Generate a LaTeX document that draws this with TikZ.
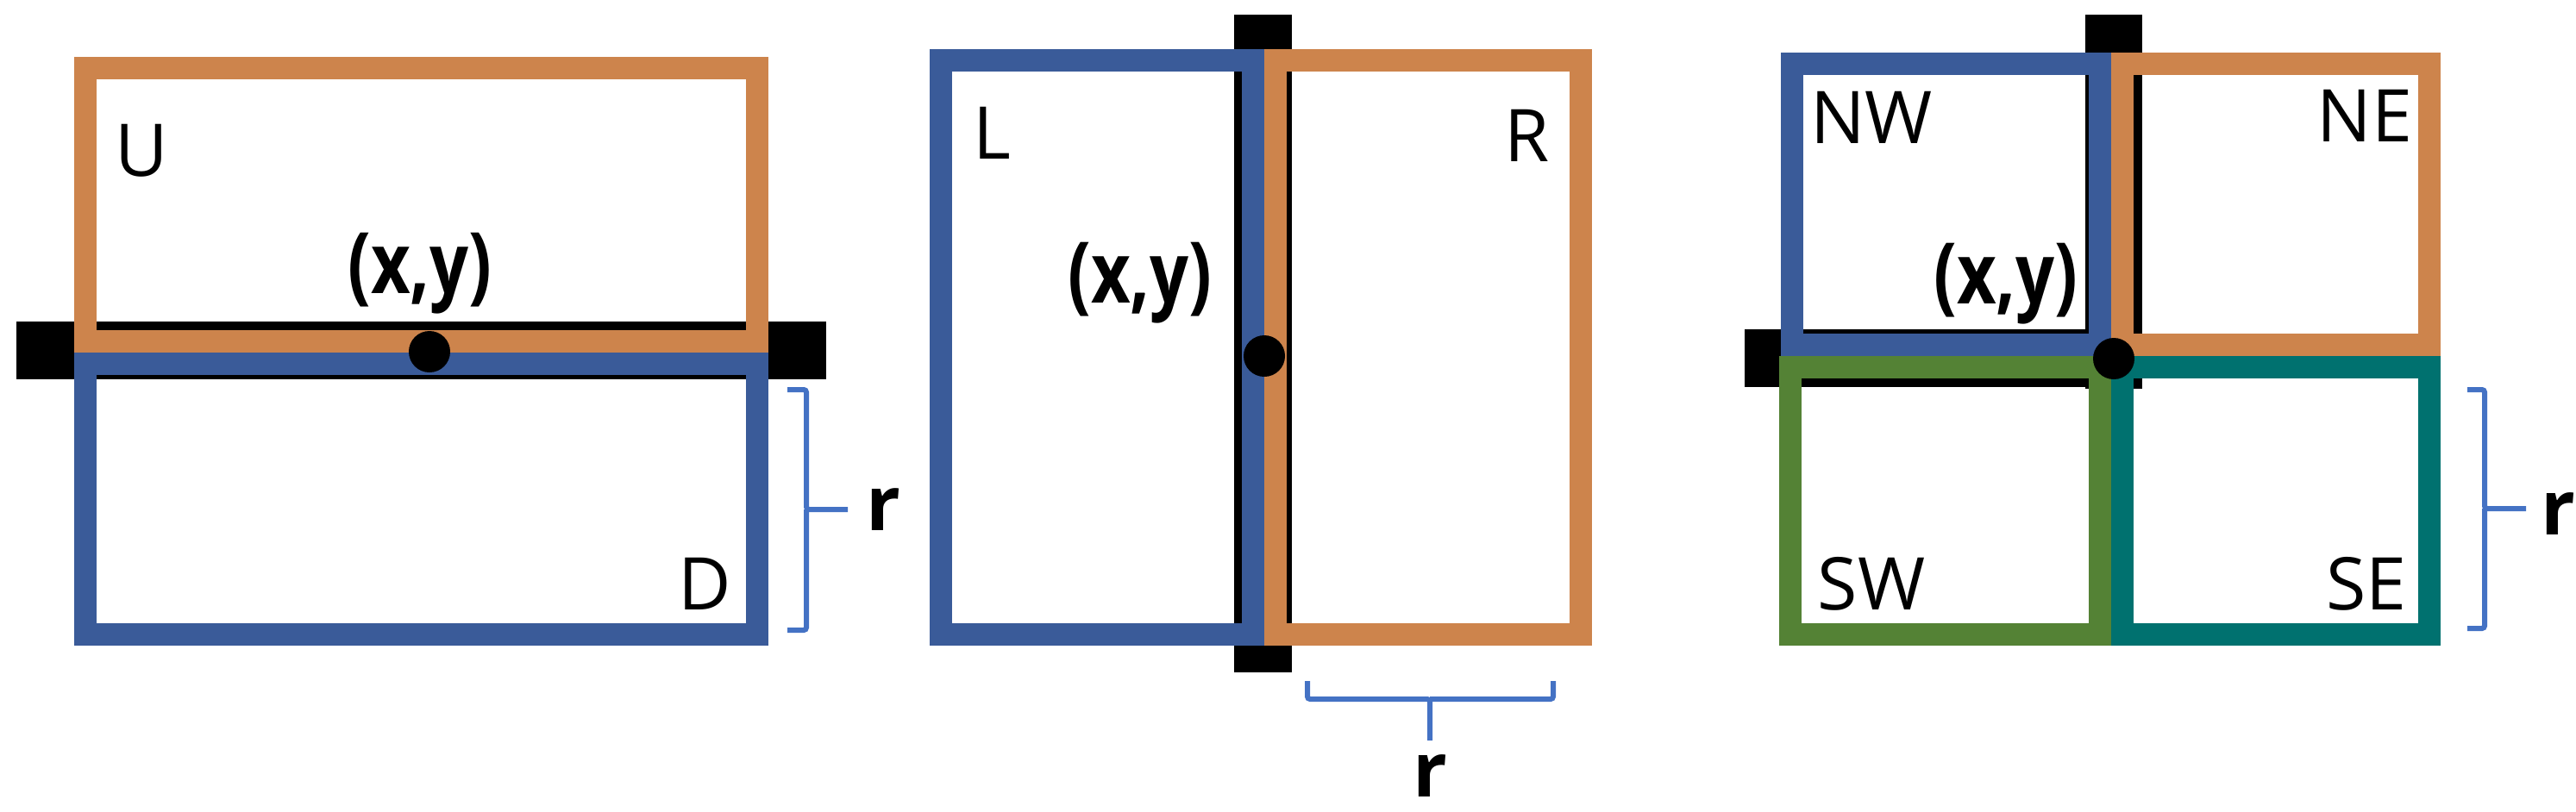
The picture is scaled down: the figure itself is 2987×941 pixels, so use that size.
\documentclass[tikz,border=0pt]{standalone}
\usepackage{fontspec}
\setmainfont{Open Sans}
\usetikzlibrary{positioning}
\definecolor{regblue}{HTML}{3A5B99}
\definecolor{regorange}{HTML}{CD844C}
\definecolor{reggreen}{HTML}{548235}
\definecolor{regteal}{HTML}{00716F}
\definecolor{bracketblue}{HTML}{4472C4}
\newcommand{\xylabel}{\scalebox{0.9}[1.12]{(x,y)}}
\tikzset{
    every node/.style={font=\fontsize{24}{28}\selectfont,inner sep=0pt},
    wallbar/.style={fill=black},
    region/.style={line width=0.26cm,line join=miter},
    point/.style={circle,fill=black,minimum size=0.48cm},
    coordlabel/.style={font=\fontsize{25}{28}\selectfont\bfseries,anchor=base},
    sizelabel/.style={font=\fontsize{25}{28}\selectfont\bfseries,anchor=base},
    quadlabel/.style={anchor=base},
    rbrace/.style={draw=bracketblue,line width=0.06cm,rounded corners=0.03cm}
}
\begin{document}
\begin{tikzpicture}[x=0.01cm,y=-0.01cm]
\useasboundingbox (0,0) rectangle (2987,941);
% split along a horizontal line
\fill[wallbar] (19,373) rectangle (958,440);
\draw[region,draw=regorange] (99,79) rectangle (878,396);
\draw[region,draw=regblue] (99,422) rectangle (878,736);
\node[point] (p1) at (498,408) {};
\node[coordlabel] (xy1) at (487,340) {\xylabel};
\node[quadlabel] (up) at (164,204) {U};
\node[quadlabel] (down) at (817,707) {D};
\draw[rbrace] (913,452) -- (935,452) -- (935,591) -- (983,591);
\draw[rbrace] (913,731) -- (935,731) -- (935,591);
\node[sizelabel] (r1) at (1024,615) {r};
% split along a vertical line
\fill[wallbar] (1431,17) rectangle (1498,780);
\draw[region,draw=regblue] (1091,70) rectangle (1453,736);
\draw[region,draw=regorange] (1479,70) rectangle (1833,736);
\node[point] (p2) at (1466,413) {};
\node[coordlabel] (xy2) at (1322,351) {\xylabel};
\node[quadlabel] (left) at (1150,184) {L};
\node[quadlabel] (right) at (1771,187) {R};
\draw[rbrace] (1516,790) -- (1516,811) -- (1658,811) -- (1658,859);
\draw[rbrace] (1801,790) -- (1801,811) -- (1658,811);
\node[sizelabel] (r2) at (1658,924) {r};
% split into four quadrants
\fill[wallbar] (2418,17) rectangle (2484,451);
\fill[wallbar] (2023,382) rectangle (2450,449);
\draw[region,draw=regblue] (2078,74) rectangle (2435,400);
\draw[region,draw=regorange] (2461,74) rectangle (2817,400);
\draw[region,draw=reggreen] (2076,426) rectangle (2435,736);
\draw[region,draw=regteal] (2461,426) rectangle (2817,736);
\node[point] (p3) at (2451,416) {};
\node[coordlabel] (xy3) at (2326,352) {\xylabel};
\node[quadlabel] (nw) at (2170,166) {NW};
\node[quadlabel] (ne) at (2742,164) {NE};
\node[quadlabel] (sw) at (2170,707) {SW};
\node[quadlabel] (se) at (2744,707) {SE};
\draw[rbrace] (2861,452) -- (2881,452) -- (2881,590) -- (2929,590);
\draw[rbrace] (2861,729) -- (2881,729) -- (2881,590);
\node[sizelabel] (r3) at (2966,620) {r};
\end{tikzpicture}
\end{document}
